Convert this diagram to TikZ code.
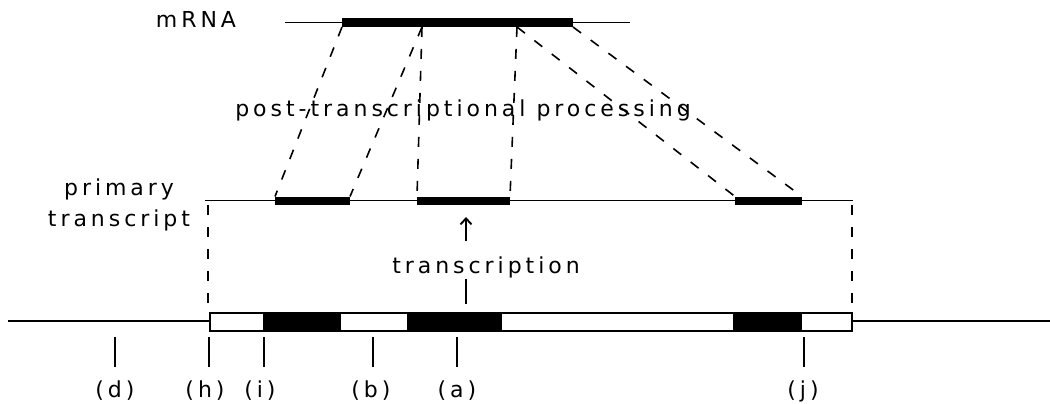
\documentclass[tikz,border=0pt]{standalone}
\usepackage{fontspec}
\setmainfont{DejaVu Sans}
\newfontfamily\lblfont[LetterSpace=18]{DejaVu Sans}
\usetikzlibrary{arrows.meta}
\begin{document}
\begin{tikzpicture}[x=1pt,y=-1pt,
  thinline/.style={line width=1.9pt},
  conn/.style={line width=1.6pt, dash pattern=on 10pt off 12pt},
  lab/.style={font=\lblfont\fontsize{22}{31}\selectfont, inner sep=0pt, anchor=base},
  exon/.style={fill=black},
  tickmark/.style={line width=1.9pt}]
\useasboundingbox (0,0) rectangle (1050,404);

% ---------- mRNA ----------
\coordinate (mL) at (285,22.5);
\coordinate (mR) at (630,22.5);
\draw[thinline] (mL) -- (mR);
\fill[exon] (342,18.5) rectangle (573,27);
\coordinate (m1) at (342,27);
\coordinate (m2) at (422,27);
\coordinate (m3) at (517,27);
\coordinate (m4) at (573,27);
\node[lab] (mrna) at (196,28) {mRNA};

% ---------- primary transcript ----------
\coordinate (pL) at (205,200.5);
\coordinate (pR) at (853,200.5);
\draw[thinline] (pL) -- (pR);
\fill[exon] (275,196.5) rectangle (350,205);
\fill[exon] (417,196.5) rectangle (510,205);
\fill[exon] (735,196.5) rectangle (802,205);
\coordinate (p1a) at (275,196.5);
\coordinate (p1b) at (350,196.5);
\coordinate (p2a) at (417,196.5);
\coordinate (p2b) at (510,196.5);
\coordinate (p3a) at (735,196.5);
\coordinate (p3b) at (802,196.5);
\node[font=\lblfont\fontsize{22}{31}\selectfont, inner sep=0pt, align=center, anchor=north]
  (prim) at (119,179) {primary\\transcript};

% ---------- processing connectors ----------
\draw[conn] (m1) -- (p1a);
\draw[conn] (m2) -- (p1b);
\draw[conn] (m2) -- (p2a);
\draw[conn] (m3) -- (p2b);
\draw[conn] (m3) -- (p3a);
\draw[conn] (m4) -- (p3b);
\node[lab] (ptp) at (463,117) {post-transcriptional processing};

% ---------- transcription ----------
\coordinate (arrB) at (466,241);
\coordinate (arrT) at (466,217);
\draw[thinline, -{Straight Barb[length=6pt,width=11pt]}] (arrB) -- (arrT);
\node[lab] (tr) at (486,273) {transcription};
\coordinate (trA) at (466,279);
\coordinate (trB) at (466,304);
\draw[thinline] (trA) -- (trB);

% ---------- gene ----------
\coordinate (gL) at (8,321);
\coordinate (gR) at (1050,321);
\coordinate (boxL) at (210,321);
\coordinate (boxR) at (852,321);
\draw[thinline] (gL) -- (boxL);
\draw[thinline] (boxR) -- (gR);
\fill[exon] (263,313) rectangle (341,331);
\fill[exon] (407,313) rectangle (502,331);
\fill[exon] (733,313) rectangle (802,331);
\draw[thinline] (210,313) rectangle (852,331);

% dashed verticals from primary transcript to gene
\coordinate (vL1) at (208,205);
\coordinate (vL2) at (208,313);
\coordinate (vR1) at (852,205);
\coordinate (vR2) at (852,313);
\draw[conn] (vL1) -- (vL2);
\draw[conn] (vR1) -- (vR2);

% ---------- ticks and labels ----------
\foreach \n/\x in {d/115, h/209, i/264, b/373, a/457, j/804}{
  \coordinate (t\n1) at (\x,337);
  \coordinate (t\n2) at (\x,367);
  \draw[tickmark] (t\n1) -- (t\n2);
}
\node[lab] (ld) at (115,397) {(d)};
\node[lab] (lh) at (205,397) {(h)};
\node[lab] (li) at (260,397) {(i)};
\node[lab] (lb) at (371,397) {(b)};
\node[lab] (la) at (457,397) {(a)};
\node[lab] (lj) at (803,397) {(j)};
\end{tikzpicture}
\end{document}
